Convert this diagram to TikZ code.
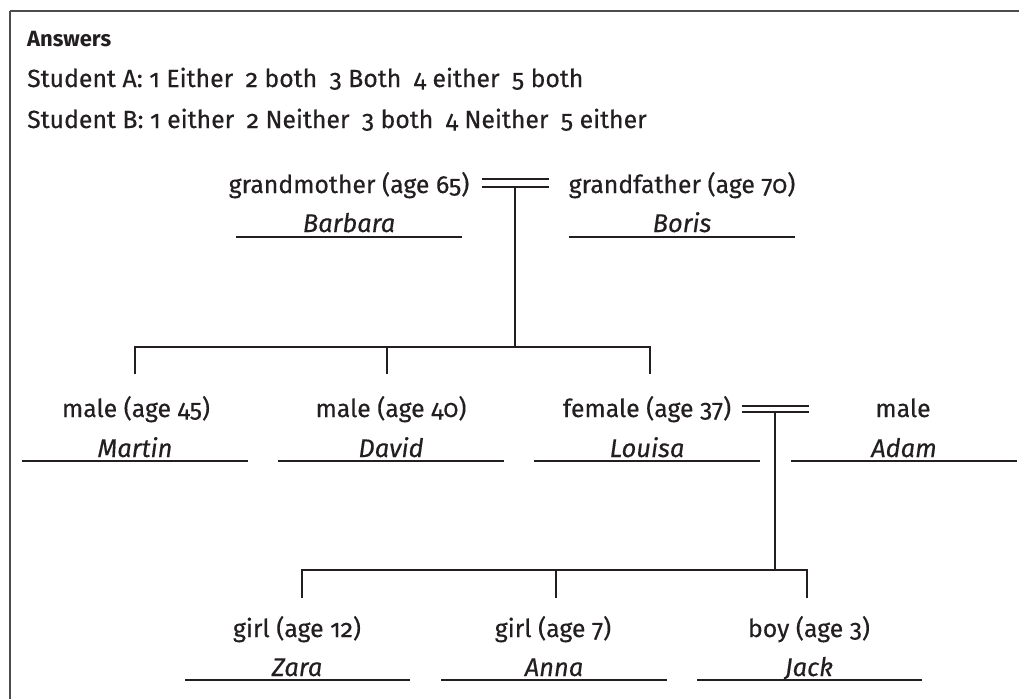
\documentclass[tikz,border=0pt]{standalone}
\usepackage{fontspec}
\setmainfont{Fira Sans}[Numbers=OldStyle, UprightFeatures={FakeBold=0.35}, ItalicFeatures={FakeBold=0.35}]
\definecolor{ink}{RGB}{35,31,32}
\tikzset{
  txt/.style={anchor=base, inner sep=0pt, text=ink, font=\fontsize{24.8}{29}\selectfont},
  nm/.style={anchor=base, inner sep=0pt, text=ink, font=\fontsize{25.5}{29}\selectfont\itshape},
  ln/.style={draw=ink, line width=1.7pt},
  uline/.style={draw=ink, line width=1.3pt},
  frame/.style={draw=black!70, line width=2pt}
}
\newcommand{\gp}{\hspace{0.5em}}
\begin{document}
\begin{tikzpicture}[x=1pt,y=-1pt]
\useasboundingbox (0,0) rectangle (1019,699);
\fill[white] (0,0) rectangle (1019,699);
\draw[frame] (10,11) -- (1019,11);
\draw[frame] (10,11) -- (10,699);
% header
\node[txt, anchor=base west, font=\fontsize{22}{26}\selectfont\bfseries] (ans) at (27,46) {Answers};
\node[txt, anchor=base west] (sa) at (27,87) {Student A: 1 Either\gp 2 both\gp 3 Both\gp 4 either\gp 5 both};
\node[txt, anchor=base west] (sb) at (27,128) {Student B: 1 either\gp 2 Neither\gp 3 both\gp 4 Neither\gp 5 either};
% grandparents
\node[txt] (gm) at (349,193) {grandmother (age 65)};
\node[txt] (gf) at (682,193) {grandfather (age 70)};
\node[nm] (barbara) at (349,232) {Barbara};
\node[nm] (boris) at (682,232) {Boris};
\draw[uline] (236,237) -- (462,237);
\draw[uline] (569,237) -- (795,237);
\coordinate (m1a) at (482,179); \coordinate (m1b) at (549,179);
\coordinate (m2a) at (482,187); \coordinate (m2b) at (549,187);
\draw[ln] (m1a) -- (m1b);
\draw[ln] (m2a) -- (m2b);
\coordinate (gpd) at (515,187);
\coordinate (gpj) at (515,347);
\draw[ln] (gpd) -- (gpj);
% children bracket
\coordinate (c1) at (135,347); \coordinate (c1b) at (135,374);
\coordinate (c2) at (387,347); \coordinate (c2b) at (387,374);
\coordinate (c3) at (650,347); \coordinate (c3b) at (650,374);
\draw[ln] (c1b) -- (c1) -- (c3) -- (c3b);
\draw[ln] (c2) -- (c2b);
% row 2
\node[txt] (martinl) at (136,417) {male (age 45)};
\node[txt] (davidl) at (391,417) {male (age 40)};
\node[txt] (louisal) at (647,417) {female (age 37)};
\node[txt] (adaml) at (903,417) {male};
\node[nm] (martin) at (135,457) {Martin};
\node[nm] (david) at (391,457) {David};
\node[nm] (louisa) at (647,457) {Louisa};
\node[nm] (adam) at (904,457) {Adam};
\draw[uline] (22,461) -- (248,461);
\draw[uline] (278,461) -- (504,461);
\draw[uline] (534,461) -- (760,461);
\draw[uline] (791,461) -- (1017,461);
\coordinate (m3a) at (742,406); \coordinate (m3b) at (809,406);
\coordinate (m4a) at (742,412); \coordinate (m4b) at (809,412);
\draw[ln] (m3a) -- (m3b);
\draw[ln] (m4a) -- (m4b);
\coordinate (lad) at (775,412);
\coordinate (laj) at (775,570);
\draw[ln] (lad) -- (laj);
% grandchildren bracket
\coordinate (g1) at (302,570); \coordinate (g1b) at (302,598);
\coordinate (g2) at (556,570); \coordinate (g2b) at (556,598);
\coordinate (g3) at (807,570); \coordinate (g3b) at (807,598);
\draw[ln] (g1b) -- (g1) -- (g3) -- (g3b);
\draw[ln] (g2) -- (g2b);
% row 3
\node[txt] (zaral) at (297,637) {girl (age 12)};
\node[txt] (annal) at (553,637) {girl (age 7)};
\node[txt] (jackl) at (809,637) {boy (age 3)};
\node[nm] (zara) at (297,676) {Zara};
\node[nm] (anna) at (554,676) {Anna};
\node[nm] (jack) at (809,676) {Jack};
\draw[uline] (185,680) -- (410,680);
\draw[uline] (441,680) -- (667,680);
\draw[uline] (697,680) -- (922,680);
\end{tikzpicture}
\end{document}
